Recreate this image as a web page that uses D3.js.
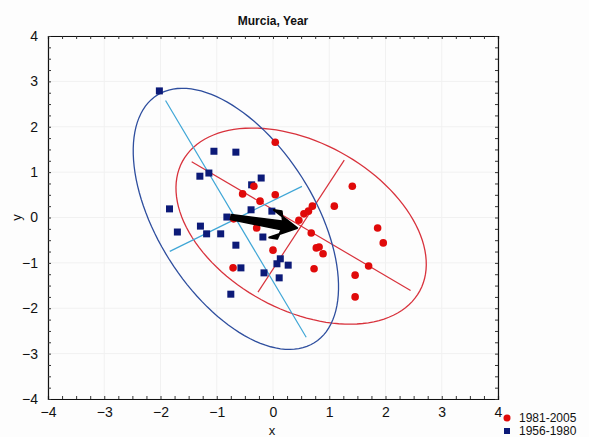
<!DOCTYPE html>
<head>
  <meta charset="utf-8">
  <script src="https://d3js.org/d3.v7.min.js"></script>
  <style>
    body { margin:0; background:#fdfdfd; }
    text { font-family: "Liberation Sans", Arial, sans-serif; fill:#111; }
  </style>
</head>
<body>
  <script>
    var width = 589, height = 437;

    // data
    var seriesNames = ['1981-2005', '1956-1980'];
    var redX = [0.04, -0.54, -0.23, 0.04, -0.34, -0.70, -0.29, 0.00, -0.71, 0.46, 0.55, 0.63, 0.70,
                0.68, 0.77, 0.82, 0.89, 0.73, 1.09, 1.41, 1.86, 1.96, 1.70, 1.46, 1.46];
    var redY = [1.66, 0.52, 0.36, 0.50, 0.69, -0.03, -0.23, -0.72, -1.11, -0.06, 0.08, 0.14, 0.25,
                -0.34, -0.67, -0.65, -0.80, -1.13, 0.25, 0.69, -0.23, -0.56, -1.07, -1.27, -1.75];
    var blueX = [-2.02, -1.05, -0.66, -1.30, -1.14, -0.21, -0.38, -1.84, -1.70, -1.29, -1.18, -0.93,
                 -0.82, -0.39, -0.02, -0.18, -0.66, -0.57, -0.16, 0.13, 0.07, 0.27, 0.11, -0.75];
    var blueY = [2.79, 1.46, 1.44, 0.91, 0.98, 0.87, 0.72, 0.19, -0.32, -0.19, -0.36, -0.36,
                 0.01, 0.17, 0.14, -0.43, -0.61, -1.11, -1.22, -0.91, -1.02, -1.05, -1.33, -1.69];

    // ellipses: centre, major and minor half axes (data units), red first then blue
    var ellipseCenter = [[0.50, -0.19], [-0.66, -0.03]];
    var ellipseMajor = [[2.07, -1.51], [1.33, -2.775]];
    var ellipseMinor = [[0.816, 1.546], [1.25, 0.762]];
    var axisFraction = 0.94;

    var arrowFrom = [-0.75, 0.01], arrowTo = [0.43, -0.23];
    var tickValues = [-4, -3, -2, -1, 0, 1, 2, 3, 4];

    var svg = d3.select('body').append('svg')
      .attr('width', width)
      .attr('height', height);

    var x = d3.scaleLinear().domain([-4, 4]).range([48, 498]);
    var y = d3.scaleLinear().domain([-4, 4]).range([399, 36]);

    var minor = d3.range(-4, 4.001, 0.25);

    // faint grid
    svg.append('g').selectAll('line.gx').data(tickValues).enter().append('line')
      .attr('x1', function(d) { return x(d); }).attr('x2', function(d) { return x(d); })
      .attr('y1', y(4)).attr('y2', y(-4))
      .attr('stroke', '#f1f1f1');
    svg.append('g').selectAll('line.gy').data(tickValues).enter().append('line')
      .attr('y1', function(d) { return y(d); }).attr('y2', function(d) { return y(d); })
      .attr('x1', x(-4)).attr('x2', x(4))
      .attr('stroke', '#f1f1f1');

    // inward ticks on all four sides
    function tickAxis(axis, tx, ty) {
      var g = svg.append('g').attr('transform', 'translate(' + tx + ',' + ty + ')')
        .call(axis.tickValues(minor).tickSize(-3).tickFormat(''));
      g.select('.domain').attr('stroke', '#111').attr('stroke-width', 1.2);
      g.selectAll('.tick line').attr('stroke', '#333');
    }
    tickAxis(d3.axisBottom(x), 0, y(-4));
    tickAxis(d3.axisTop(x), 0, y(4));
    tickAxis(d3.axisLeft(y), x(-4), 0);
    tickAxis(d3.axisRight(y), x(4), 0);

    // tick labels
    var gxl = svg.append('g').attr('transform', 'translate(0,' + (y(-4) + 5) + ')')
      .call(d3.axisBottom(x).tickValues(tickValues).tickSize(0));
    gxl.select('.domain').remove();
    gxl.selectAll('text').style('font-size', '14px').style('fill', '#111')
      .style('font-family', '"Liberation Sans", Arial, sans-serif');

    var gyl = svg.append('g').attr('transform', 'translate(' + (x(-4) - 7) + ',0)')
      .call(d3.axisLeft(y).tickValues(tickValues).tickSize(0));
    gyl.select('.domain').remove();
    gyl.selectAll('text').style('font-size', '14px').style('fill', '#111')
      .style('font-family', '"Liberation Sans", Arial, sans-serif');

    // ellipses and their axes
    var colors = ['#d8323c', '#2e4e9e'];
    var axisColors = ['#d8323c', '#3fa6d6'];
    ellipseCenter.forEach(function(c, i) {
      var u = ellipseMajor[i], v = ellipseMinor[i];
      var pts = d3.range(0, 361, 3).map(function(a) {
        var t = a * Math.PI / 180;
        return [c[0] + Math.cos(t) * u[0] + Math.sin(t) * v[0],
                c[1] + Math.cos(t) * u[1] + Math.sin(t) * v[1]];
      });
      svg.append('path')
        .attr('d', d3.line().x(function(p) { return x(p[0]); }).y(function(p) { return y(p[1]); })(pts))
        .attr('fill', 'none')
        .attr('stroke', colors[i])
        .attr('stroke-width', 1.3);
      [u, v].forEach(function(w) {
        svg.append('line')
          .attr('x1', x(c[0] - w[0] * axisFraction)).attr('y1', y(c[1] - w[1] * axisFraction))
          .attr('x2', x(c[0] + w[0] * axisFraction)).attr('y2', y(c[1] + w[1] * axisFraction))
          .attr('stroke', axisColors[i])
          .attr('stroke-width', 1.2);
      });
    });

    // points
    svg.append('g').selectAll('rect').data(d3.range(blueX.length)).enter().append('rect')
      .attr('x', function(i) { return x(blueX[i]) - 3.5; })
      .attr('y', function(i) { return y(blueY[i]) - 3.5; })
      .attr('width', 7).attr('height', 7)
      .attr('fill', '#0c1a78');
    svg.append('g').selectAll('circle').data(d3.range(redX.length)).enter().append('circle')
      .attr('cx', function(i) { return x(redX[i]); })
      .attr('cy', function(i) { return y(redY[i]); })
      .attr('r', 3.8)
      .attr('fill', '#e00a0a');

    // arrow between the two centres
    var ax0 = x(arrowFrom[0]), ay0 = y(arrowFrom[1]);
    var ax1 = x(arrowTo[0]), ay1 = y(arrowTo[1]);
    var ang = Math.atan2(ay1 - ay0, ax1 - ax0);
    var len = Math.hypot(ax1 - ax0, ay1 - ay0);
    var hl = 26, hw = 14;
    function pt(d, s) {
      return [ax1 - d * Math.cos(ang) - s * Math.sin(ang), ay1 - d * Math.sin(ang) + s * Math.cos(ang)];
    }
    svg.append('path')
      .attr('d', d3.line()([pt(len, -2.5), pt(14, -4.5), pt(14, 4.5), pt(len, 2.5)]) + 'Z')
      .attr('fill', '#000').attr('stroke', '#000').attr('stroke-width', 1.5).attr('stroke-linejoin', 'round');
    svg.append('path')
      .attr('d', d3.line()([[ax1, ay1], pt(hl, -hw), pt(hl - 8, -hw), pt(14, 0), pt(hl - 8, hw), pt(hl, hw)]) + 'Z')
      .attr('fill', '#000').attr('stroke', '#000').attr('stroke-width', 2).attr('stroke-linejoin', 'round');

    // title and axis names
    svg.append('text').attr('x', 273).attr('y', 25).attr('text-anchor', 'middle')
      .style('font-size', '12px').style('font-weight', 'bold').text('Murcia, Year');
    svg.append('text').attr('x', 272).attr('y', 435).attr('text-anchor', 'middle')
      .style('font-size', '13px').text('x');
    svg.append('text').attr('transform', 'translate(21,' + y(0) + ') rotate(-90)').attr('text-anchor', 'middle')
      .style('font-size', '13px').text('y');

    // legend
    var leg = svg.append('g');
    leg.append('circle').attr('cx', 507).attr('cy', 418).attr('r', 3.5).attr('fill', '#e00a0a');
    leg.append('rect').attr('x', 504).attr('y', 428).attr('width', 6).attr('height', 6).attr('fill', '#0c1a78');
    leg.selectAll('text').data(seriesNames).enter().append('text')
      .attr('x', 519).attr('y', function(d, i) { return 422 + i * 13; })
      .style('font-size', '12px').text(function(d) { return d; });
  </script>
</body>
